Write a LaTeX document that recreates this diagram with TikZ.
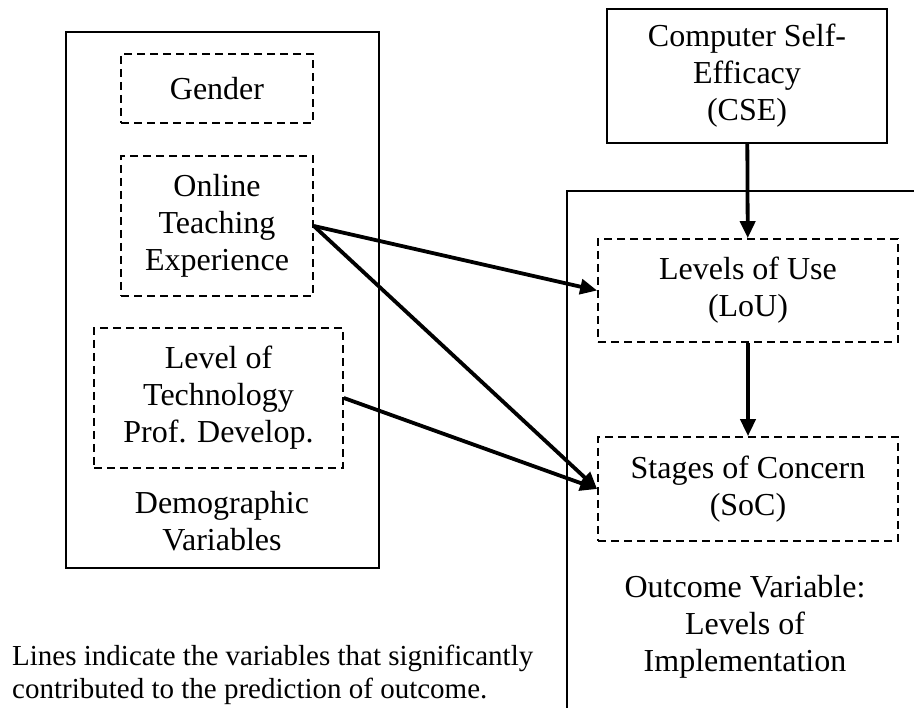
\documentclass[tikz,border=0pt]{standalone}
\usepackage{fontspec}
\setmainfont{Liberation Serif}
\usetikzlibrary{arrows.meta,positioning}

\begin{document}
\begin{tikzpicture}[x=1pt, y=-1pt,
      outerbox/.style={draw, line width=2pt, inner sep=0pt},
      varbox/.style={draw, dash pattern=on 8pt off 5pt, line width=1.7pt, inner sep=0pt, align=center, font=\fontsize{32}{37}\selectfont},
      boxlabel/.style={align=center, font=\fontsize{32}{37}\selectfont},
      effect/.style={line width=3.8pt, -{Triangle[length=17pt, width=15pt]}}
    ]
      \clip (0,0) rectangle (914,708);

      % Demographic variables
      \node[outerbox, minimum width=313pt, minimum height=536pt] (demo) at (222.5, 300) {};
      \node[varbox, minimum width=192pt, minimum height=69pt] (gender) at (217, 88.5) {Gender};
      \node[varbox, minimum width=192pt, minimum height=140pt] (online) at (217, 226) {Online\\Teaching\\Experience};
      \node[varbox, minimum width=249pt, minimum height=140pt] (techpd) at (218.5, 398) {Level of\\Technology\\Prof. Develop.};
      \node[boxlabel] (demolabel) at (222, 521) {Demographic\\Variables};

      % Computer self-efficacy
      \node[outerbox, align=center, font=\fontsize{32}{37}\selectfont, minimum width=280pt, minimum height=134pt] (cse) at (747, 76) {Computer Self-\\Efficacy\\(CSE)};

      % Outcome variable
      \node[outerbox, minimum width=383pt, minimum height=569pt] (outcome) at (758.5, 475.5) {};
      \node[varbox, minimum width=300pt, minimum height=103pt] (lou) at (748, 290.5) {Levels of Use\\(LoU)};
      \node[varbox, minimum width=300pt, minimum height=104pt] (soc) at (748, 489) {Stages of Concern\\(SoC)};
      \node[boxlabel] (outlabel) at (745, 627) {Outcome Variable:\\Levels of\\Implementation};

      % Note
      \node[anchor=west, align=left, inner sep=0pt, font=\fontsize{29}{33}\selectfont] (note) at (12, 675) {Lines indicate the variables that significantly\\contributed to the prediction of outcome.};

      % Connectors
      \draw[effect] (cse) -- (lou);
      \draw[effect] (lou) -- (soc);
      \draw[effect] (online.east) -- (lou.west);
      \draw[effect] (online.east) -- (soc.west);
      \draw[effect] (techpd.east) -- (soc.west);
    \end{tikzpicture}
\end{document}
